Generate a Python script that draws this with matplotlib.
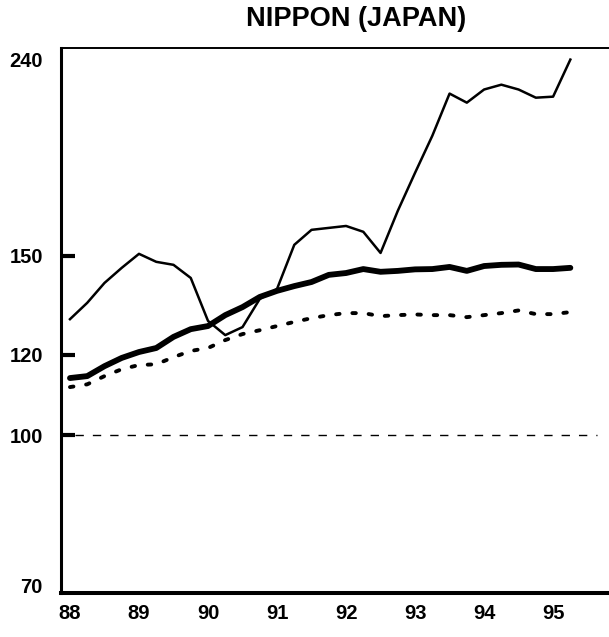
import numpy as np
import matplotlib
matplotlib.use("Agg")
import matplotlib.pyplot as plt

plt.rcParams["font.family"] = ["Liberation Sans", "DejaVu Sans"]
plt.rcParams["font.weight"] = "bold"

# quarterly observations, 1988 Q1 .. 1995 Q2
quarters = 88 + np.arange(30) / 4

thin_series = [130.0, 134.9, 141.1, 146.0, 150.7, 148.0, 147.0, 142.7, 129.5, 125.4,
               127.7, 136.1, 139.2, 153.8, 159.1, 159.8, 160.5, 158.4, 151.0, 166.1,
               181.0, 196.8, 216.5, 212.1, 218.5, 220.9, 218.5, 214.5, 215.0, 233.8]

thick_series = [113.8, 114.3, 116.9, 119.1, 120.7, 121.8, 124.9, 127.1, 128.0, 131.2,
                133.6, 136.7, 138.6, 140.1, 141.4, 143.7, 144.3, 145.6, 144.7, 145.0,
                145.5, 145.6, 146.3, 145.0, 146.6, 147.0, 147.1, 145.6, 145.6, 146.0]

dotted_series = [111.5, 112.2, 114.3, 116.1, 117.2, 117.4, 119.3, 121.0, 121.8, 124.0,
                 125.7, 126.8, 128.0, 129.2, 130.3, 131.2, 131.8, 131.8, 130.9, 131.2,
                 131.4, 131.2, 131.2, 130.6, 131.2, 131.8, 132.6, 131.5, 131.5, 132.1]

base_level = 100
year_ticks = [88, 89, 90, 91, 92, 93, 94, 95]
year_labels = ["88", "89", "90", "91", "92", "93", "94", "95"]
y_ticks = [100, 120, 150]
y_edge_labels = [240, 70]

fig = plt.figure(figsize=(6.09, 6.37), dpi=100)
ax = fig.add_axes([61 / 609, 1 - 593 / 637, 548 / 609, 545 / 637])

ax.set_yscale("log")
ax.set_ylim(70, 240)
ax.set_xlim(87.87, 95.81)

ax.plot(quarters, thin_series, color="black", lw=1.8)
ax.plot(quarters, thick_series, color="black", lw=4.2, solid_capstyle="round")
ax.plot(quarters, dotted_series, color="black", lw=2.8, linestyle=(0, (0.9, 3.3)),
        dash_capstyle="round")
ax.axhline(base_level, xmin=0.026, xmax=0.978, color="black", lw=1.0,
           linestyle=(0, (6, 6.5)))

ax.set_xticks(year_ticks)
ax.set_xticklabels(year_labels)
ax.tick_params(axis="x", length=0, pad=8, labelsize=14.5)

ax.yaxis.set_minor_locator(matplotlib.ticker.NullLocator())
ax.set_yticks(y_ticks)
ax.set_yticklabels([str(v) for v in y_ticks])
ax.tick_params(axis="y", direction="in", length=10, width=3, pad=13, labelsize=14.5)

# 240 and 70 sit at the frame edges, labelled without tick marks
ax.annotate(str(y_edge_labels[0]), xy=(0, y_edge_labels[0]), xycoords=("axes fraction", "data"),
            xytext=(-13, -10), textcoords="offset points", ha="right", va="center",
            fontsize=14.5, fontweight="bold")
ax.annotate(str(y_edge_labels[1]), xy=(0, y_edge_labels[1]), xycoords=("axes fraction", "data"),
            xytext=(-13, 4), textcoords="offset points", ha="right", va="center",
            fontsize=14.5, fontweight="bold")

ax.spines["right"].set_visible(False)
ax.spines["left"].set_linewidth(2.2)
ax.spines["bottom"].set_linewidth(2.9)
ax.spines["top"].set_linewidth(1.4)

fig.text(356 / 609, 1 - 19 / 637, "NIPPON (JAPAN)", ha="center", va="center",
         fontsize=19.5, fontweight="bold")

fig.savefig("out.png", dpi=100)
